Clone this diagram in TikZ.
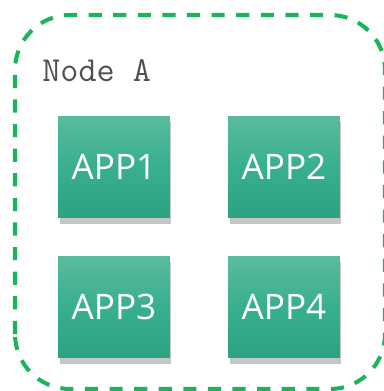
\documentclass[tikz,border=0pt]{standalone}
\usepackage{fontspec}
\newfontfamily\appfont{Open Sans}
\usetikzlibrary{shadows}
\definecolor{applight}{RGB}{90,187,158}
\definecolor{appmid}{RGB}{56,175,142}
\definecolor{appdark}{RGB}{44,162,129}
\definecolor{nodegreen}{RGB}{26,180,90}
\definecolor{titlegray}{RGB}{80,80,80}

\begin{document}
\begin{tikzpicture}[x=0.02cm, y=0.02cm,
  app/.style={minimum width=2.24cm, minimum height=2.04cm, inner sep=0pt,
    top color=applight, bottom color=appdark, middle color=appmid,
    drop shadow={shadow xshift=0.03cm, shadow yshift=-0.12cm, opacity=0.45},
    text=white, font=\appfont\fontsize{20}{24}\selectfont}]
\useasboundingbox (0,0) rectangle (383,391);

\draw[nodegreen, line width=2.3pt, dash pattern=on 7.5pt off 6.5pt, rounded corners=1.1cm] (15,2) rectangle (385,376);
\node[anchor=base west, inner sep=0pt, text=titlegray, font=\ttfamily\fontsize{20}{24}\selectfont] (title) at (42,309) {Node A};

\node[app] (app1) at (114,224) {APP1};
\node[app] (app2) at (284,224) {APP2};
\node[app] (app3) at (114,84) {APP3};
\node[app] (app4) at (284,84) {APP4};
\end{tikzpicture}
\end{document}
